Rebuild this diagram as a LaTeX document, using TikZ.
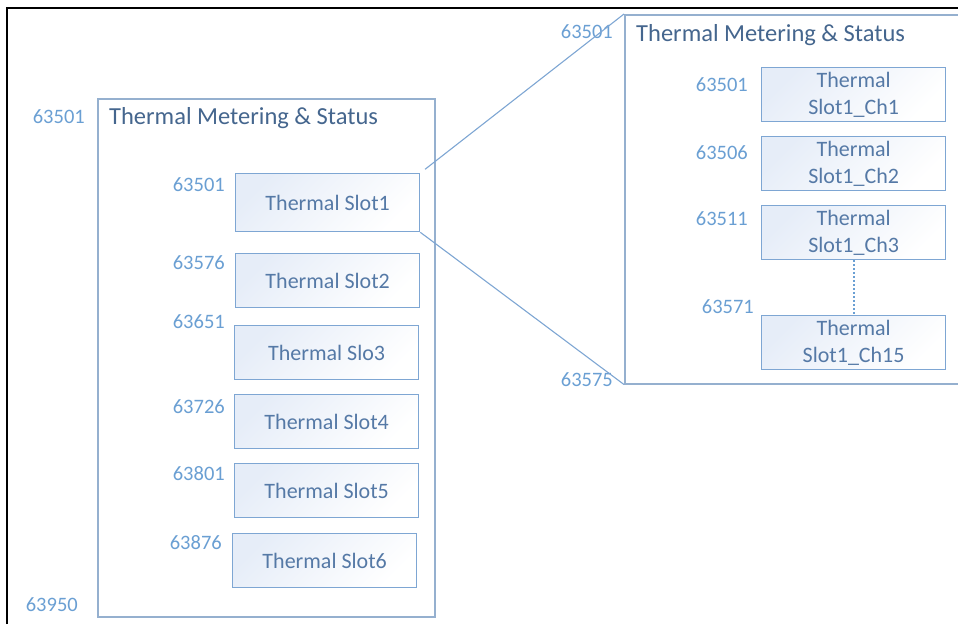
\documentclass[tikz,border=0pt]{standalone}
\usepackage{fontspec}
\setmainfont{Carlito}
\usetikzlibrary{shadows}

\definecolor{grpline}{HTML}{95B0CF}
\definecolor{boxline}{HTML}{7EA6D3}
\definecolor{titlecol}{HTML}{45668E}
\definecolor{slottext}{HTML}{5579A6}
\definecolor{addrcol}{HTML}{6A9FD3}
\definecolor{boxtint}{HTML}{E6EDF8}

\begin{document}
\begin{tikzpicture}[x=1pt, y=-1pt, font=\fontsize{22}{27}\selectfont,
  groupbox/.style={draw=grpline, line width=1.5pt, fill=white, anchor=north west,
    drop shadow={opacity=0.18, shadow xshift=1.5pt, shadow yshift=-1.5pt}},
  slotbox/.style={draw=boxline, line width=1.3pt, anchor=north west, text=slottext,
    minimum width=184pt, minimum height=54pt, align=center, inner sep=0pt,
    top color=boxtint, bottom color=white, shading angle=45},
  addr/.style={text=addrcol, anchor=east, inner sep=0pt, font=\fontsize{20.5}{24}\selectfont},
  grptitle/.style={text=titlecol, anchor=west, inner sep=0pt, font=\fontsize{24.5}{28}\selectfont}]
  \useasboundingbox (0,0) rectangle (958,624);

  % outer frame
  \coordinate (FL) at (7,624);
  \coordinate (FC) at (7,8);
  \coordinate (FR) at (958,8);
  \draw[line width=1.6pt] (FL) -- (FC) -- (FR);

  % left group: slots
  \node[groupbox, minimum width=337pt, minimum height=518pt] (grp) at (97,98) {};
  \node[grptitle] (grpt) at (109,118) {Thermal Metering \& Status};
  \node[addr] (grpa) at (85,117) {63501};
  \node[addr] (grpe) at (78,605) {63950};

  \node[slotbox, minimum height=58pt] (s1) at (235,173) {Thermal Slot1};
  \node[slotbox] (s2) at (235,253) {Thermal Slot2};
  \node[slotbox] (s3) at (234,325) {Thermal Slo3};
  \node[slotbox] (s4) at (234,394) {Thermal Slot4};
  \node[slotbox] (s5) at (234,463) {Thermal Slot5};
  \node[slotbox] (s6) at (232,533) {Thermal Slot6};

  \node[addr] (a1) at (225,185) {63501};
  \node[addr] (a2) at (225,263) {63576};
  \node[addr] (a3) at (225,322) {63651};
  \node[addr] (a4) at (225,407) {63726};
  \node[addr] (a5) at (225,474) {63801};
  \node[addr] (a6) at (222,543) {63876};

  % right group: channels of slot 1
  \node[groupbox, minimum width=345pt, minimum height=369pt] (ch) at (624,14) {};
  \node[grptitle] (cht) at (636,35) {Thermal Metering \& Status};
  \node[addr] (cha) at (613,32) {63501};
  \node[addr] (che) at (613,380) {63575};

  \node[slotbox] (c1) at (761,67) {Thermal\\Slot1\_Ch1};
  \node[slotbox] (c2) at (761,136) {Thermal\\Slot1\_Ch2};
  \node[slotbox] (c3) at (761,205) {Thermal\\Slot1\_Ch3};
  \node[slotbox] (c15) at (761,315) {Thermal\\Slot1\_Ch15};

  \node[addr] (b1) at (748,85) {63501};
  \node[addr] (b2) at (748,153) {63506};
  \node[addr] (b3) at (748,219) {63511};
  \node[addr] (b15) at (754,307) {63571};

  \draw[addrcol, line width=2pt, dash pattern=on 2pt off 2pt] (c3.south) -- (c15.north);

  % zoom lines
  \draw[boxline, line width=1.1pt, shorten <=6pt] (s1.north east) -- (ch.north west);
  \draw[boxline, line width=1.1pt] (s1.south east) -- (ch.south west);
\end{tikzpicture}
\end{document}
